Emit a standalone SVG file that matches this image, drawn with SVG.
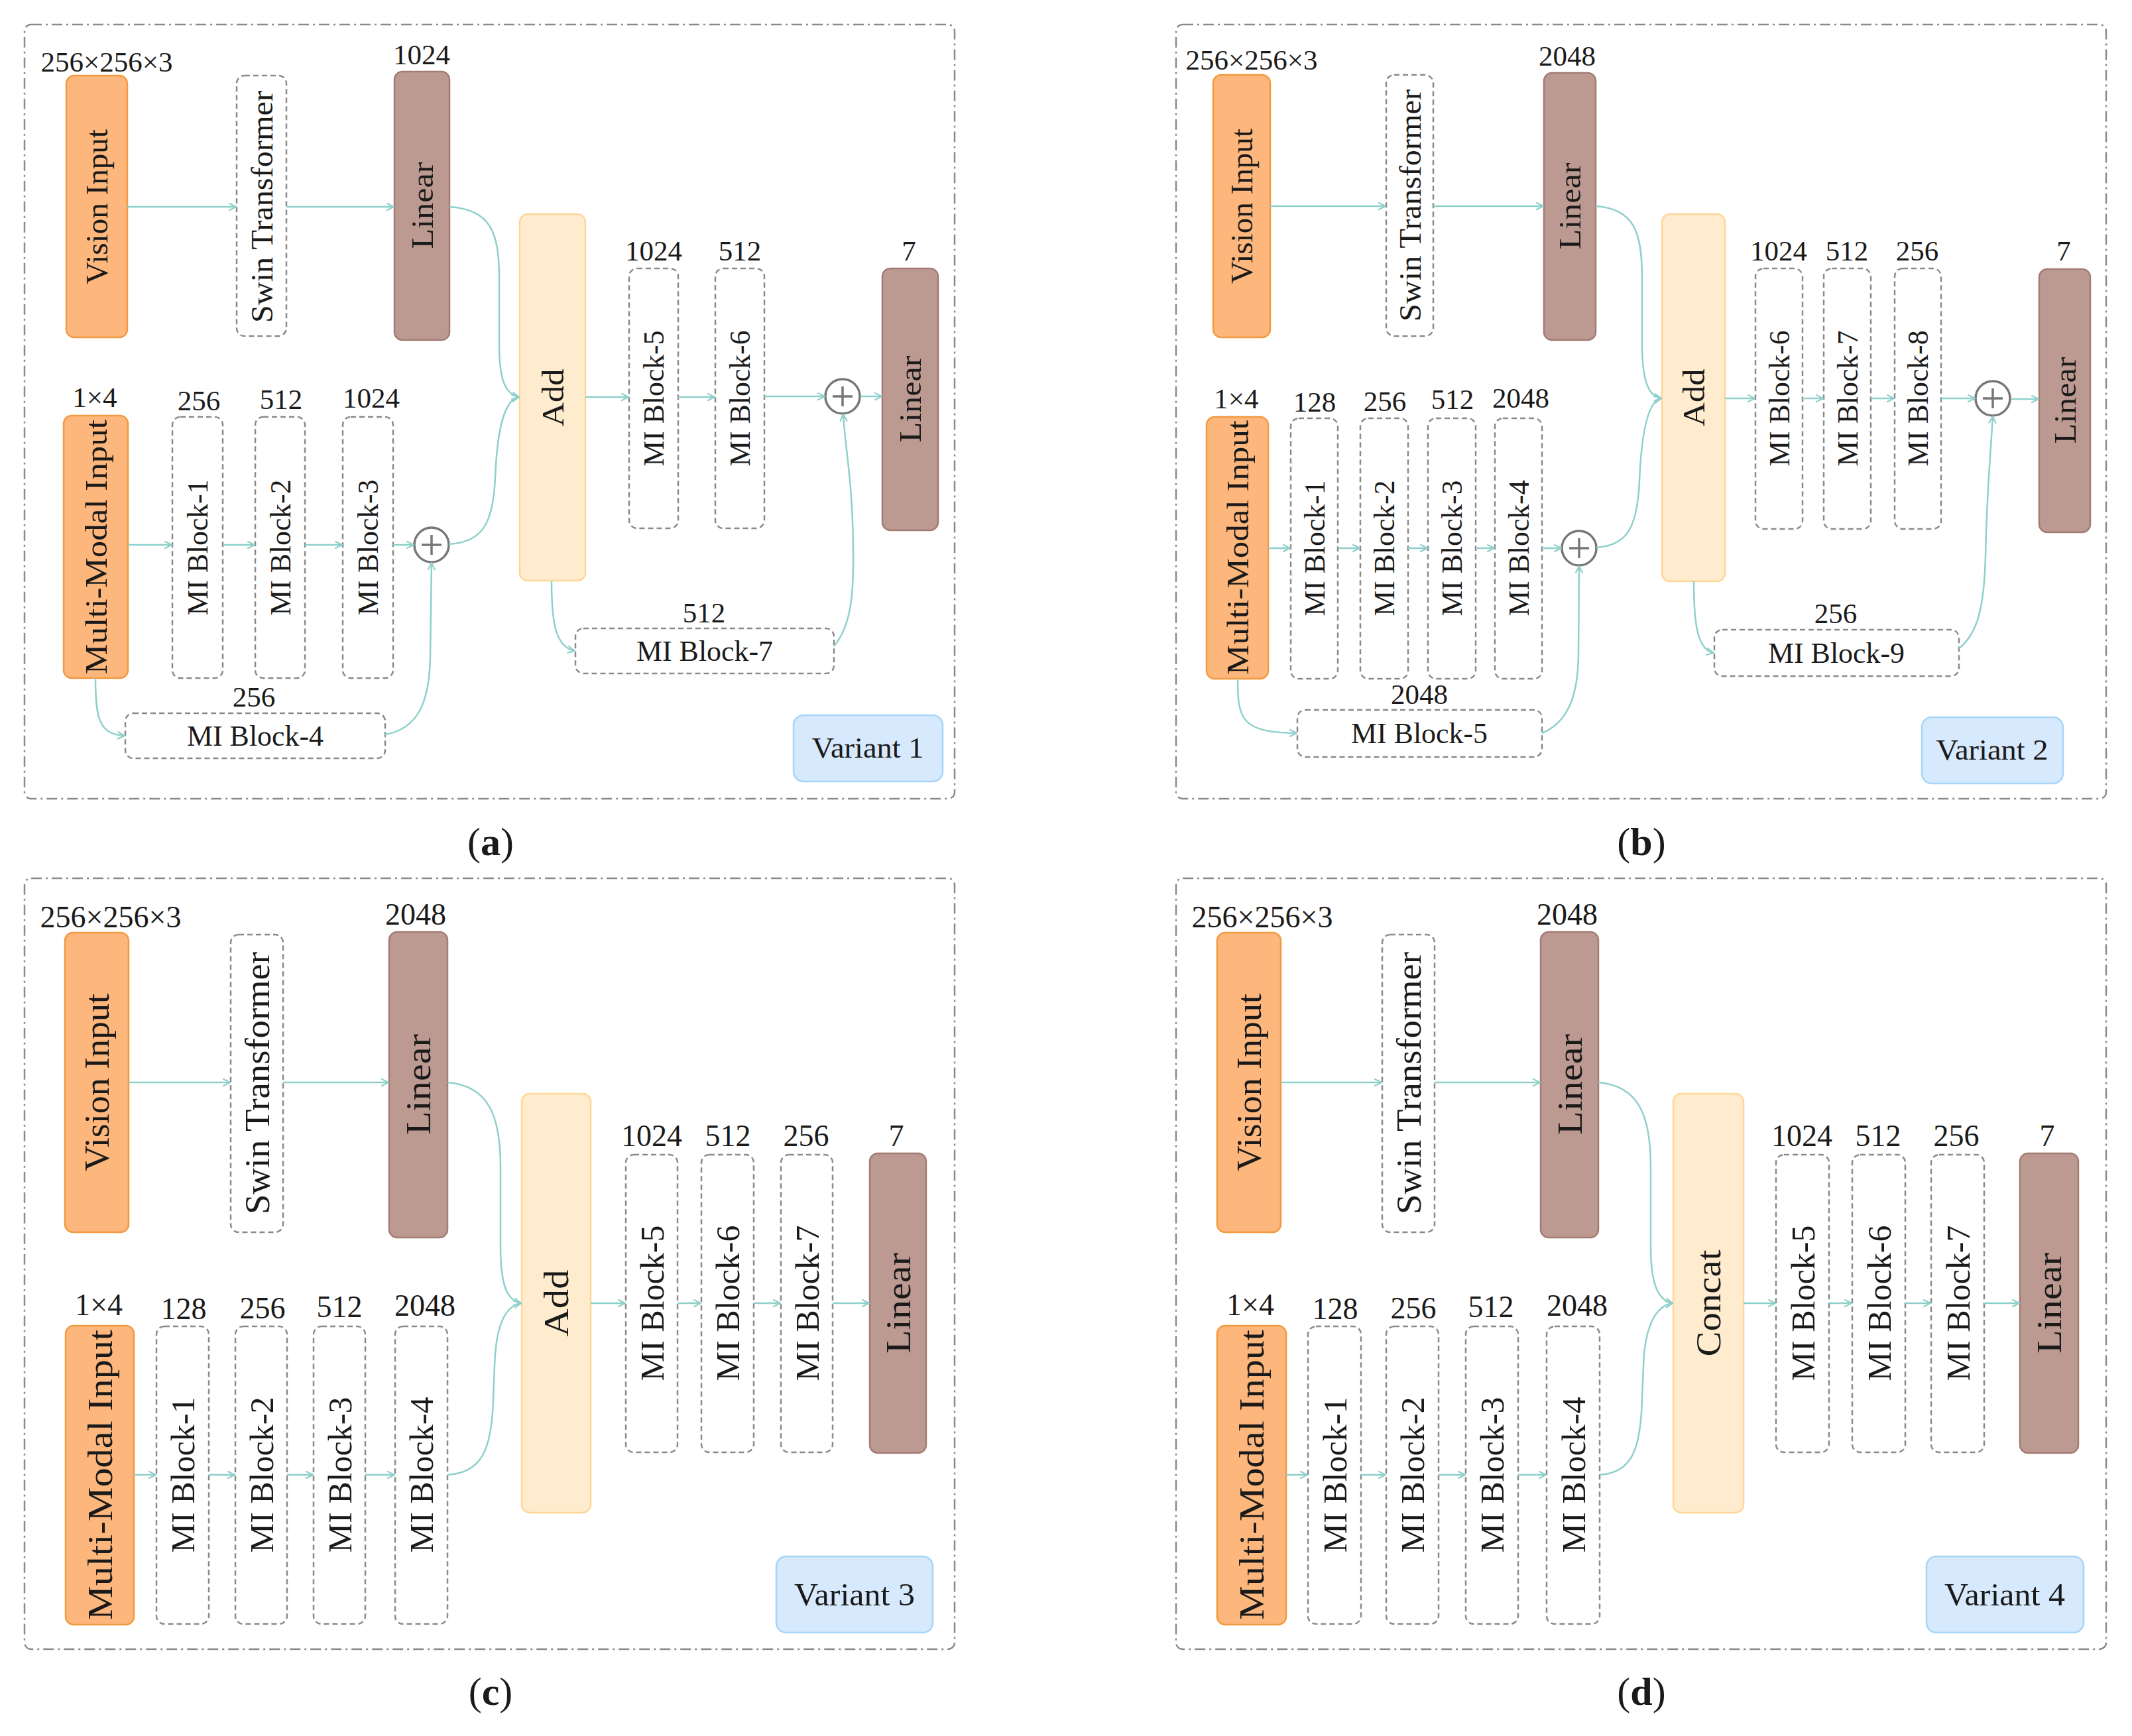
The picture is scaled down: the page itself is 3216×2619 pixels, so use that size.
<svg xmlns="http://www.w3.org/2000/svg" width="3216" height="2619" viewBox="0 0 3216 2619">
<defs>
<style>
.bd{fill:none;stroke:#8a8a8a;stroke-width:2.5;stroke-dasharray:16 6 3 6}
.vi{fill:#fdb77c;stroke:#f3993f;stroke-width:2.5}
.ln{fill:#bc9a92;stroke:#a27c73;stroke-width:2.5}
.ad{fill:#ffecce;stroke:#ffd598;stroke-width:2.5}
.db{fill:#fff;stroke:#8a8a8a;stroke-width:2.5;stroke-dasharray:8 5}
.va{fill:#d7e9fd;stroke:#a6d5f8;stroke-width:2.5}
.c{fill:none;stroke:#8fd0cc;stroke-width:2.5;marker-end:url(#ah)}
.pc{fill:#fff;stroke:#777;stroke-width:3.5}
.pp{stroke:#777;stroke-width:3.5}
text{font-family:"Liberation Serif","Times New Roman",serif;fill:#1a1a1a;text-anchor:middle}
.n{font-size:43px}
.l{font-size:46px}
.m{font-size:44px}
.n2{font-size:46px}
.l2{font-size:52px}
.m2{font-size:50px}
.v{font-size:45px}
.v2{font-size:48px}
.cap{font-size:60px}
</style>
<marker id="ah" viewBox="0 0 12 12" refX="11" refY="6" markerWidth="13" markerHeight="13" markerUnits="userSpaceOnUse" orient="auto">
<path d="M1,1 L11,6 L1,11" fill="none" stroke="#8fd0cc" stroke-width="2"/>
</marker>
</defs>
<rect width="3216" height="2619" fill="#fff"/>

<!-- ================= Panel (a) ================= -->
<g id="panel-a">
<rect class="bd" x="37" y="37" width="1403" height="1168" rx="10"/>
<text class="cap" x="740" y="1290">(<tspan font-weight="bold">a</tspan>)</text>
</g>
<g id="a-nodes">
<g id="a-vision"><rect class="vi" x="100" y="114" width="92" height="395" rx="12"/><text class="l" transform="translate(146,312) rotate(-90)" dy="0.35em" textLength="234" lengthAdjust="spacingAndGlyphs">Vision Input</text><text class="n" x="161" y="108">256×256×3</text></g>
<g id="a-swin"><rect class="db" x="357" y="114" width="75" height="393" rx="12"/><text class="l" transform="translate(394.5,312) rotate(-90)" dy="0.35em" textLength="350" lengthAdjust="spacingAndGlyphs">Swin Transformer</text></g>
<g id="a-linear1"><rect class="ln" x="595" y="108" width="83" height="405" rx="12"/><text class="l" transform="translate(636.5,310) rotate(-90)" dy="0.35em" textLength="131" lengthAdjust="spacingAndGlyphs">Linear</text><text class="n" x="636" y="97">1024</text></g>
<g id="a-add"><rect class="ad" x="784" y="323" width="99" height="553" rx="12"/><text class="l" transform="translate(833.5,600) rotate(-90)" dy="0.35em" textLength="87" lengthAdjust="spacingAndGlyphs">Add</text></g>
<g id="a-mmi"><rect class="vi" x="96" y="627" width="97" height="396" rx="12"/><text class="l" transform="translate(144.5,825) rotate(-90)" dy="0.35em" textLength="384" lengthAdjust="spacingAndGlyphs">Multi-Modal Input</text><text class="n" x="143" y="614">1×4</text></g>
<g id="a-mi1"><rect class="db" x="260" y="629" width="76" height="394" rx="12"/><text class="m" transform="translate(298,826) rotate(-90)" dy="0.35em" textLength="205" lengthAdjust="spacingAndGlyphs">MI Block-1</text><text class="n" x="300" y="619">256</text></g>
<g id="a-mi2"><rect class="db" x="385" y="629" width="75" height="394" rx="12"/><text class="m" transform="translate(422.5,826) rotate(-90)" dy="0.35em" textLength="205" lengthAdjust="spacingAndGlyphs">MI Block-2</text><text class="n" x="424" y="617">512</text></g>
<g id="a-mi3"><rect class="db" x="517" y="629" width="76" height="394" rx="12"/><text class="m" transform="translate(555,826) rotate(-90)" dy="0.35em" textLength="205" lengthAdjust="spacingAndGlyphs">MI Block-3</text><text class="n" x="560" y="615">1024</text></g>
<g id="a-plus1"><circle class="pc" cx="651" cy="822" r="26"/><path class="pp" d="M636,822 H666 M651,807 V837"/></g>
<g id="a-mi4"><rect class="db" x="189" y="1076" width="392" height="68" rx="12"/><text class="m" x="385" y="1110" dy="0.35em" textLength="206" lengthAdjust="spacingAndGlyphs">MI Block-4</text><text class="n" x="383" y="1066">256</text></g>
<g id="a-mi5"><rect class="db" x="949" y="405" width="74" height="392" rx="12"/><text class="m" transform="translate(986,601) rotate(-90)" dy="0.35em" textLength="205" lengthAdjust="spacingAndGlyphs">MI Block-5</text><text class="n" x="986" y="393">1024</text></g>
<g id="a-mi6"><rect class="db" x="1079" y="405" width="74" height="392" rx="12"/><text class="m" transform="translate(1116,601) rotate(-90)" dy="0.35em" textLength="205" lengthAdjust="spacingAndGlyphs">MI Block-6</text><text class="n" x="1116" y="393">512</text></g>
<g id="a-plus2"><circle class="pc" cx="1271" cy="598" r="26"/><path class="pp" d="M1256,598 H1286 M1271,583 V613"/></g>
<g id="a-linear2"><rect class="ln" x="1331" y="405" width="84" height="395" rx="12"/><text class="l" transform="translate(1373,602) rotate(-90)" dy="0.35em" textLength="131" lengthAdjust="spacingAndGlyphs">Linear</text><text class="n" x="1371" y="393">7</text></g>
<g id="a-mi7"><rect class="db" x="868" y="948" width="390" height="68" rx="12"/><text class="m" x="1063" y="982" dy="0.35em" textLength="206" lengthAdjust="spacingAndGlyphs">MI Block-7</text><text class="n" x="1062" y="939">512</text></g>
<g id="a-variant"><rect class="va" x="1197" y="1079" width="225" height="100" rx="15"/><text class="v" x="1309" y="1143" textLength="169" lengthAdjust="spacingAndGlyphs">Variant 1</text></g>
</g>
<g id="a-connectors">
<path class="c" d="M192,312 L356,312"/>
<path class="c" d="M432,312 L594,312"/>
<path class="c" d="M678,312 C740,316 753,350 753,420 L753,520 C753,572 762,595 783,599"/>
<path class="c" d="M193,822 L259,822"/>
<path class="c" d="M336,822 L384,822"/>
<path class="c" d="M460,822 L516,822"/>
<path class="c" d="M593,822 L624,822"/>
<path class="c" d="M677,821 C728,818 744,790 747,720 C750,650 760,603 783,599"/>
<path class="c" d="M144,1023 C144,1085 150,1108 188,1110"/>
<path class="c" d="M581,1108 C630,1100 648,1060 649,990 L651,849"/>
<path class="c" d="M883,599 L948,599"/>
<path class="c" d="M1023,599 L1078,599"/>
<path class="c" d="M1153,598 L1244,598"/>
<path class="c" d="M1298,598 L1330,598"/>
<path class="c" d="M832,876 C832,940 838,976 867,982"/>
<path class="c" d="M1258,975 C1283,945 1288,900 1287,830 C1286,720 1275,680 1272,625"/>
</g>

<!-- ================= Panel (b) ================= -->
<g id="panel-b">
<rect class="bd" x="1774" y="37" width="1403" height="1168" rx="10"/>
<text class="cap" x="2476" y="1290">(<tspan font-weight="bold">b</tspan>)</text>
</g>
<g id="b-nodes">
<g id="b-vision"><rect class="vi" x="1830" y="113" width="86" height="396" rx="12"/><text class="l" transform="translate(1873,311) rotate(-90)" dy="0.35em" textLength="234" lengthAdjust="spacingAndGlyphs">Vision Input</text><text class="n" x="1888" y="105">256×256×3</text></g>
<g id="b-swin"><rect class="db" x="2091" y="113" width="71" height="394" rx="12"/><text class="l" transform="translate(2126.5,310) rotate(-90)" dy="0.35em" textLength="350" lengthAdjust="spacingAndGlyphs">Swin Transformer</text></g>
<g id="b-linear1"><rect class="ln" x="2329" y="110" width="78" height="403" rx="12"/><text class="l" transform="translate(2368,311) rotate(-90)" dy="0.35em" textLength="131" lengthAdjust="spacingAndGlyphs">Linear</text><text class="n" x="2364" y="99">2048</text></g>
<g id="b-add"><rect class="ad" x="2507" y="323" width="95" height="554" rx="12"/><text class="l" transform="translate(2554.5,600) rotate(-90)" dy="0.35em" textLength="87" lengthAdjust="spacingAndGlyphs">Add</text></g>
<g id="b-mmi"><rect class="vi" x="1820" y="629" width="93" height="395" rx="12"/><text class="l" transform="translate(1866.5,826) rotate(-90)" dy="0.35em" textLength="384" lengthAdjust="spacingAndGlyphs">Multi-Modal Input</text><text class="n" x="1865" y="616">1×4</text></g>
<g id="b-mi1"><rect class="db" x="1947" y="631" width="71" height="393" rx="12"/><text class="m" transform="translate(1982.5,827) rotate(-90)" dy="0.35em" textLength="205" lengthAdjust="spacingAndGlyphs">MI Block-1</text><text class="n" x="1983" y="621">128</text></g>
<g id="b-mi2"><rect class="db" x="2052" y="631" width="72" height="393" rx="12"/><text class="m" transform="translate(2088,827) rotate(-90)" dy="0.35em" textLength="205" lengthAdjust="spacingAndGlyphs">MI Block-2</text><text class="n" x="2089" y="620">256</text></g>
<g id="b-mi3"><rect class="db" x="2154" y="631" width="72" height="393" rx="12"/><text class="m" transform="translate(2190,827) rotate(-90)" dy="0.35em" textLength="205" lengthAdjust="spacingAndGlyphs">MI Block-3</text><text class="n" x="2191" y="617">512</text></g>
<g id="b-mi4"><rect class="db" x="2255" y="631" width="71" height="393" rx="12"/><text class="m" transform="translate(2290.5,827) rotate(-90)" dy="0.35em" textLength="205" lengthAdjust="spacingAndGlyphs">MI Block-4</text><text class="n" x="2294" y="615">2048</text></g>
<g id="b-plus1"><circle class="pc" cx="2382" cy="827" r="26"/><path class="pp" d="M2367,827 H2397 M2382,812 V842"/></g>
<g id="b-mi5"><rect class="db" x="1957" y="1071" width="369" height="71" rx="12"/><text class="m" x="2141" y="1106" dy="0.35em" textLength="206" lengthAdjust="spacingAndGlyphs">MI Block-5</text><text class="n" x="2141" y="1062">2048</text></g>
<g id="b-mi6"><rect class="db" x="2648" y="405" width="71" height="393" rx="12"/><text class="m" transform="translate(2683.5,601) rotate(-90)" dy="0.35em" textLength="205" lengthAdjust="spacingAndGlyphs">MI Block-6</text><text class="n" x="2683" y="393">1024</text></g>
<g id="b-mi7"><rect class="db" x="2751" y="405" width="71" height="393" rx="12"/><text class="m" transform="translate(2786.5,601) rotate(-90)" dy="0.35em" textLength="205" lengthAdjust="spacingAndGlyphs">MI Block-7</text><text class="n" x="2786" y="393">512</text></g>
<g id="b-mi8"><rect class="db" x="2858" y="405" width="70" height="393" rx="12"/><text class="m" transform="translate(2893,601) rotate(-90)" dy="0.35em" textLength="205" lengthAdjust="spacingAndGlyphs">MI Block-8</text><text class="n" x="2892" y="393">256</text></g>
<g id="b-plus2"><circle class="pc" cx="3006" cy="601" r="26"/><path class="pp" d="M2991,601 H3021 M3006,586 V616"/></g>
<g id="b-linear2"><rect class="ln" x="3076" y="406" width="77" height="397" rx="12"/><text class="l" transform="translate(3114.5,604) rotate(-90)" dy="0.35em" textLength="131" lengthAdjust="spacingAndGlyphs">Linear</text><text class="n" x="3113" y="393">7</text></g>
<g id="b-mi9"><rect class="db" x="2586" y="950" width="369" height="70" rx="12"/><text class="m" x="2770" y="985" dy="0.35em" textLength="206" lengthAdjust="spacingAndGlyphs">MI Block-9</text><text class="n" x="2769" y="940">256</text></g>
<g id="b-variant"><rect class="va" x="2899" y="1082" width="213" height="100" rx="15"/><text class="v" x="3005" y="1146" textLength="169" lengthAdjust="spacingAndGlyphs">Variant 2</text></g>
</g>
<g id="b-connectors">
<path class="c" d="M1916,311 L2090,311"/>
<path class="c" d="M2162,311 L2328,311"/>
<path class="c" d="M2407,311 C2465,315 2477,350 2477,420 L2477,520 C2477,575 2487,598 2506,601"/>
<path class="c" d="M1913,827 L1946,827"/>
<path class="c" d="M2018,827 L2051,827"/>
<path class="c" d="M2124,827 L2153,827"/>
<path class="c" d="M2226,827 L2254,827"/>
<path class="c" d="M2326,827 L2355,827"/>
<path class="c" d="M2408,826 C2455,823 2470,795 2473,725 C2476,655 2485,605 2506,601"/>
<path class="c" d="M1867,1024 C1867,1085 1872,1105 1956,1106"/>
<path class="c" d="M2326,1106 C2365,1090 2380,1050 2381,990 L2382,854"/>
<path class="c" d="M2602,601 L2647,601"/>
<path class="c" d="M2719,601 L2750,601"/>
<path class="c" d="M2822,601 L2857,601"/>
<path class="c" d="M2928,601 L2979,601"/>
<path class="c" d="M3033,602 L3075,602"/>
<path class="c" d="M2555,877 C2555,940 2560,980 2585,985"/>
<path class="c" d="M2955,978 C2985,955 2993,910 2995,840 C2997,740 3003,680 3006,628"/>
</g>

<!-- ================= Panel (c) ================= -->
<g id="panel-c">
<rect class="bd" x="37" y="1325" width="1403" height="1163" rx="10"/>
<text class="cap" x="740" y="2572">(<tspan font-weight="bold">c</tspan>)</text>
</g>
<g id="c-nodes">
<g id="c-vision"><rect class="vi" x="98" y="1407" width="96" height="452" rx="12"/><text class="l2" transform="translate(146,1633) rotate(-90)" dy="0.35em" textLength="268" lengthAdjust="spacingAndGlyphs">Vision Input</text><text class="n2" x="167" y="1399">256×256×3</text></g>
<g id="c-swin"><rect class="db" x="348" y="1410" width="79" height="449" rx="12"/><text class="l2" transform="translate(387.5,1634) rotate(-90)" dy="0.35em" textLength="396" lengthAdjust="spacingAndGlyphs">Swin Transformer</text></g>
<g id="c-linear1"><rect class="ln" x="587" y="1406" width="88" height="461" rx="12"/><text class="l2" transform="translate(631,1636) rotate(-90)" dy="0.35em" textLength="152" lengthAdjust="spacingAndGlyphs">Linear</text><text class="n2" x="627" y="1395">2048</text></g>
<g id="c-add"><rect class="ad" x="787" y="1650" width="104" height="632" rx="12"/><text class="l2" transform="translate(839,1966) rotate(-90)" dy="0.35em" textLength="101" lengthAdjust="spacingAndGlyphs">Add</text></g>
<g id="c-mmi"><rect class="vi" x="99" y="2000" width="103" height="451" rx="12"/><text class="l2" transform="translate(150.5,2225) rotate(-90)" dy="0.35em" textLength="438" lengthAdjust="spacingAndGlyphs">Multi-Modal Input</text><text class="n2" x="149" y="1984">1×4</text></g>
<g id="c-mi1"><rect class="db" x="236" y="2001" width="79" height="449" rx="12"/><text class="m2" transform="translate(275.5,2225) rotate(-90)" dy="0.35em" textLength="235" lengthAdjust="spacingAndGlyphs">MI Block-1</text><text class="n2" x="277" y="1990">128</text></g>
<g id="c-mi2"><rect class="db" x="355" y="2001" width="78" height="449" rx="12"/><text class="m2" transform="translate(394,2225) rotate(-90)" dy="0.35em" textLength="235" lengthAdjust="spacingAndGlyphs">MI Block-2</text><text class="n2" x="396" y="1989">256</text></g>
<g id="c-mi3"><rect class="db" x="473" y="2001" width="78" height="449" rx="12"/><text class="m2" transform="translate(512,2225) rotate(-90)" dy="0.35em" textLength="235" lengthAdjust="spacingAndGlyphs">MI Block-3</text><text class="n2" x="512" y="1987">512</text></g>
<g id="c-mi4"><rect class="db" x="596" y="2001" width="79" height="449" rx="12"/><text class="m2" transform="translate(635.5,2225) rotate(-90)" dy="0.35em" textLength="235" lengthAdjust="spacingAndGlyphs">MI Block-4</text><text class="n2" x="641" y="1985">2048</text></g>
<g id="c-mi5"><rect class="db" x="944" y="1742" width="78" height="449" rx="12"/><text class="m2" transform="translate(983,1966) rotate(-90)" dy="0.35em" textLength="235" lengthAdjust="spacingAndGlyphs">MI Block-5</text><text class="n2" x="983" y="1729">1024</text></g>
<g id="c-mi6"><rect class="db" x="1058" y="1742" width="79" height="449" rx="12"/><text class="m2" transform="translate(1097.5,1966) rotate(-90)" dy="0.35em" textLength="235" lengthAdjust="spacingAndGlyphs">MI Block-6</text><text class="n2" x="1098" y="1729">512</text></g>
<g id="c-mi7"><rect class="db" x="1178" y="1742" width="78" height="449" rx="12"/><text class="m2" transform="translate(1217,1966) rotate(-90)" dy="0.35em" textLength="235" lengthAdjust="spacingAndGlyphs">MI Block-7</text><text class="n2" x="1216" y="1729">256</text></g>
<g id="c-linear2"><rect class="ln" x="1312" y="1740" width="85" height="452" rx="12"/><text class="l2" transform="translate(1354.5,1966) rotate(-90)" dy="0.35em" textLength="152" lengthAdjust="spacingAndGlyphs">Linear</text><text class="n2" x="1352" y="1729">7</text></g>
<g id="c-variant"><rect class="va" x="1171" y="2348" width="236" height="115" rx="15"/><text class="v2" x="1289" y="2422" textLength="182" lengthAdjust="spacingAndGlyphs">Variant 3</text></g>
</g>
<g id="c-connectors">
<path class="c" d="M194,1633 L347,1633"/>
<path class="c" d="M427,1633 L586,1633"/>
<path class="c" d="M675,1633 C735,1638 755,1680 755,1760 L755,1880 C755,1940 765,1962 786,1966"/>
<path class="c" d="M202,2225 L235,2225"/>
<path class="c" d="M315,2225 L354,2225"/>
<path class="c" d="M433,2225 L472,2225"/>
<path class="c" d="M551,2225 L595,2225"/>
<path class="c" d="M675,2225 C725,2222 742,2190 744,2110 L746,2060 C748,2000 762,1970 786,1966"/>
<path class="c" d="M891,1966 L943,1966"/>
<path class="c" d="M1022,1966 L1057,1966"/>
<path class="c" d="M1137,1966 L1177,1966"/>
<path class="c" d="M1256,1966 L1311,1966"/>
</g>

<!-- ================= Panel (d) ================= -->
<g id="panel-d">
<rect class="bd" x="1774" y="1325" width="1403" height="1163" rx="10"/>
<text class="cap" x="2476" y="2572">(<tspan font-weight="bold">d</tspan>)</text>
</g>
<g id="d-nodes">
<g id="d-vision"><rect class="vi" x="1836" y="1407" width="96" height="452" rx="12"/><text class="l2" transform="translate(1884,1633) rotate(-90)" dy="0.35em" textLength="268" lengthAdjust="spacingAndGlyphs">Vision Input</text><text class="n2" x="1904" y="1399">256×256×3</text></g>
<g id="d-swin"><rect class="db" x="2085" y="1410" width="79" height="449" rx="12"/><text class="l2" transform="translate(2124.5,1634) rotate(-90)" dy="0.35em" textLength="396" lengthAdjust="spacingAndGlyphs">Swin Transformer</text></g>
<g id="d-linear1"><rect class="ln" x="2324" y="1406" width="87" height="461" rx="12"/><text class="l2" transform="translate(2367.5,1636) rotate(-90)" dy="0.35em" textLength="152" lengthAdjust="spacingAndGlyphs">Linear</text><text class="n2" x="2364" y="1395">2048</text></g>
<g id="d-concat"><rect class="ad" x="2524" y="1650" width="106" height="632" rx="12"/><text class="l2" transform="translate(2577,1966) rotate(-90)" dy="0.35em" textLength="161" lengthAdjust="spacingAndGlyphs">Concat</text></g>
<g id="d-mmi"><rect class="vi" x="1836" y="2000" width="104" height="451" rx="12"/><text class="l2" transform="translate(1888,2225) rotate(-90)" dy="0.35em" textLength="438" lengthAdjust="spacingAndGlyphs">Multi-Modal Input</text><text class="n2" x="1886" y="1984">1×4</text></g>
<g id="d-mi1"><rect class="db" x="1973" y="2001" width="80" height="449" rx="12"/><text class="m2" transform="translate(2013,2225) rotate(-90)" dy="0.35em" textLength="235" lengthAdjust="spacingAndGlyphs">MI Block-1</text><text class="n2" x="2014" y="1990">128</text></g>
<g id="d-mi2"><rect class="db" x="2091" y="2001" width="79" height="449" rx="12"/><text class="m2" transform="translate(2130.5,2225) rotate(-90)" dy="0.35em" textLength="235" lengthAdjust="spacingAndGlyphs">MI Block-2</text><text class="n2" x="2132" y="1989">256</text></g>
<g id="d-mi3"><rect class="db" x="2211" y="2001" width="79" height="449" rx="12"/><text class="m2" transform="translate(2250.5,2225) rotate(-90)" dy="0.35em" textLength="235" lengthAdjust="spacingAndGlyphs">MI Block-3</text><text class="n2" x="2249" y="1987">512</text></g>
<g id="d-mi4"><rect class="db" x="2333" y="2001" width="80" height="449" rx="12"/><text class="m2" transform="translate(2373,2225) rotate(-90)" dy="0.35em" textLength="235" lengthAdjust="spacingAndGlyphs">MI Block-4</text><text class="n2" x="2379" y="1985">2048</text></g>
<g id="d-mi5"><rect class="db" x="2679" y="1742" width="80" height="449" rx="12"/><text class="m2" transform="translate(2719,1966) rotate(-90)" dy="0.35em" textLength="235" lengthAdjust="spacingAndGlyphs">MI Block-5</text><text class="n2" x="2718" y="1729">1024</text></g>
<g id="d-mi6"><rect class="db" x="2794" y="1742" width="80" height="449" rx="12"/><text class="m2" transform="translate(2834,1966) rotate(-90)" dy="0.35em" textLength="235" lengthAdjust="spacingAndGlyphs">MI Block-6</text><text class="n2" x="2833" y="1729">512</text></g>
<g id="d-mi7"><rect class="db" x="2913" y="1742" width="80" height="449" rx="12"/><text class="m2" transform="translate(2953,1966) rotate(-90)" dy="0.35em" textLength="235" lengthAdjust="spacingAndGlyphs">MI Block-7</text><text class="n2" x="2951" y="1729">256</text></g>
<g id="d-linear2"><rect class="ln" x="3047" y="1740" width="88" height="452" rx="12"/><text class="l2" transform="translate(3091,1966) rotate(-90)" dy="0.35em" textLength="152" lengthAdjust="spacingAndGlyphs">Linear</text><text class="n2" x="3088" y="1729">7</text></g>
<g id="d-variant"><rect class="va" x="2906" y="2348" width="237" height="115" rx="15"/><text class="v2" x="3024" y="2422" textLength="182" lengthAdjust="spacingAndGlyphs">Variant 4</text></g>
</g>
<g id="d-connectors">
<path class="c" d="M1932,1633 L2084,1633"/>
<path class="c" d="M2164,1633 L2323,1633"/>
<path class="c" d="M2411,1633 C2470,1638 2490,1680 2490,1760 L2490,1880 C2490,1940 2502,1962 2523,1966"/>
<path class="c" d="M1940,2225 L1972,2225"/>
<path class="c" d="M2053,2225 L2090,2225"/>
<path class="c" d="M2170,2225 L2210,2225"/>
<path class="c" d="M2290,2225 L2332,2225"/>
<path class="c" d="M2413,2225 C2460,2222 2475,2190 2477,2110 L2479,2060 C2481,2000 2498,1970 2523,1966"/>
<path class="c" d="M2630,1966 L2678,1966"/>
<path class="c" d="M2759,1966 L2793,1966"/>
<path class="c" d="M2874,1966 L2912,1966"/>
<path class="c" d="M2993,1966 L3046,1966"/>
</g>
</svg>
